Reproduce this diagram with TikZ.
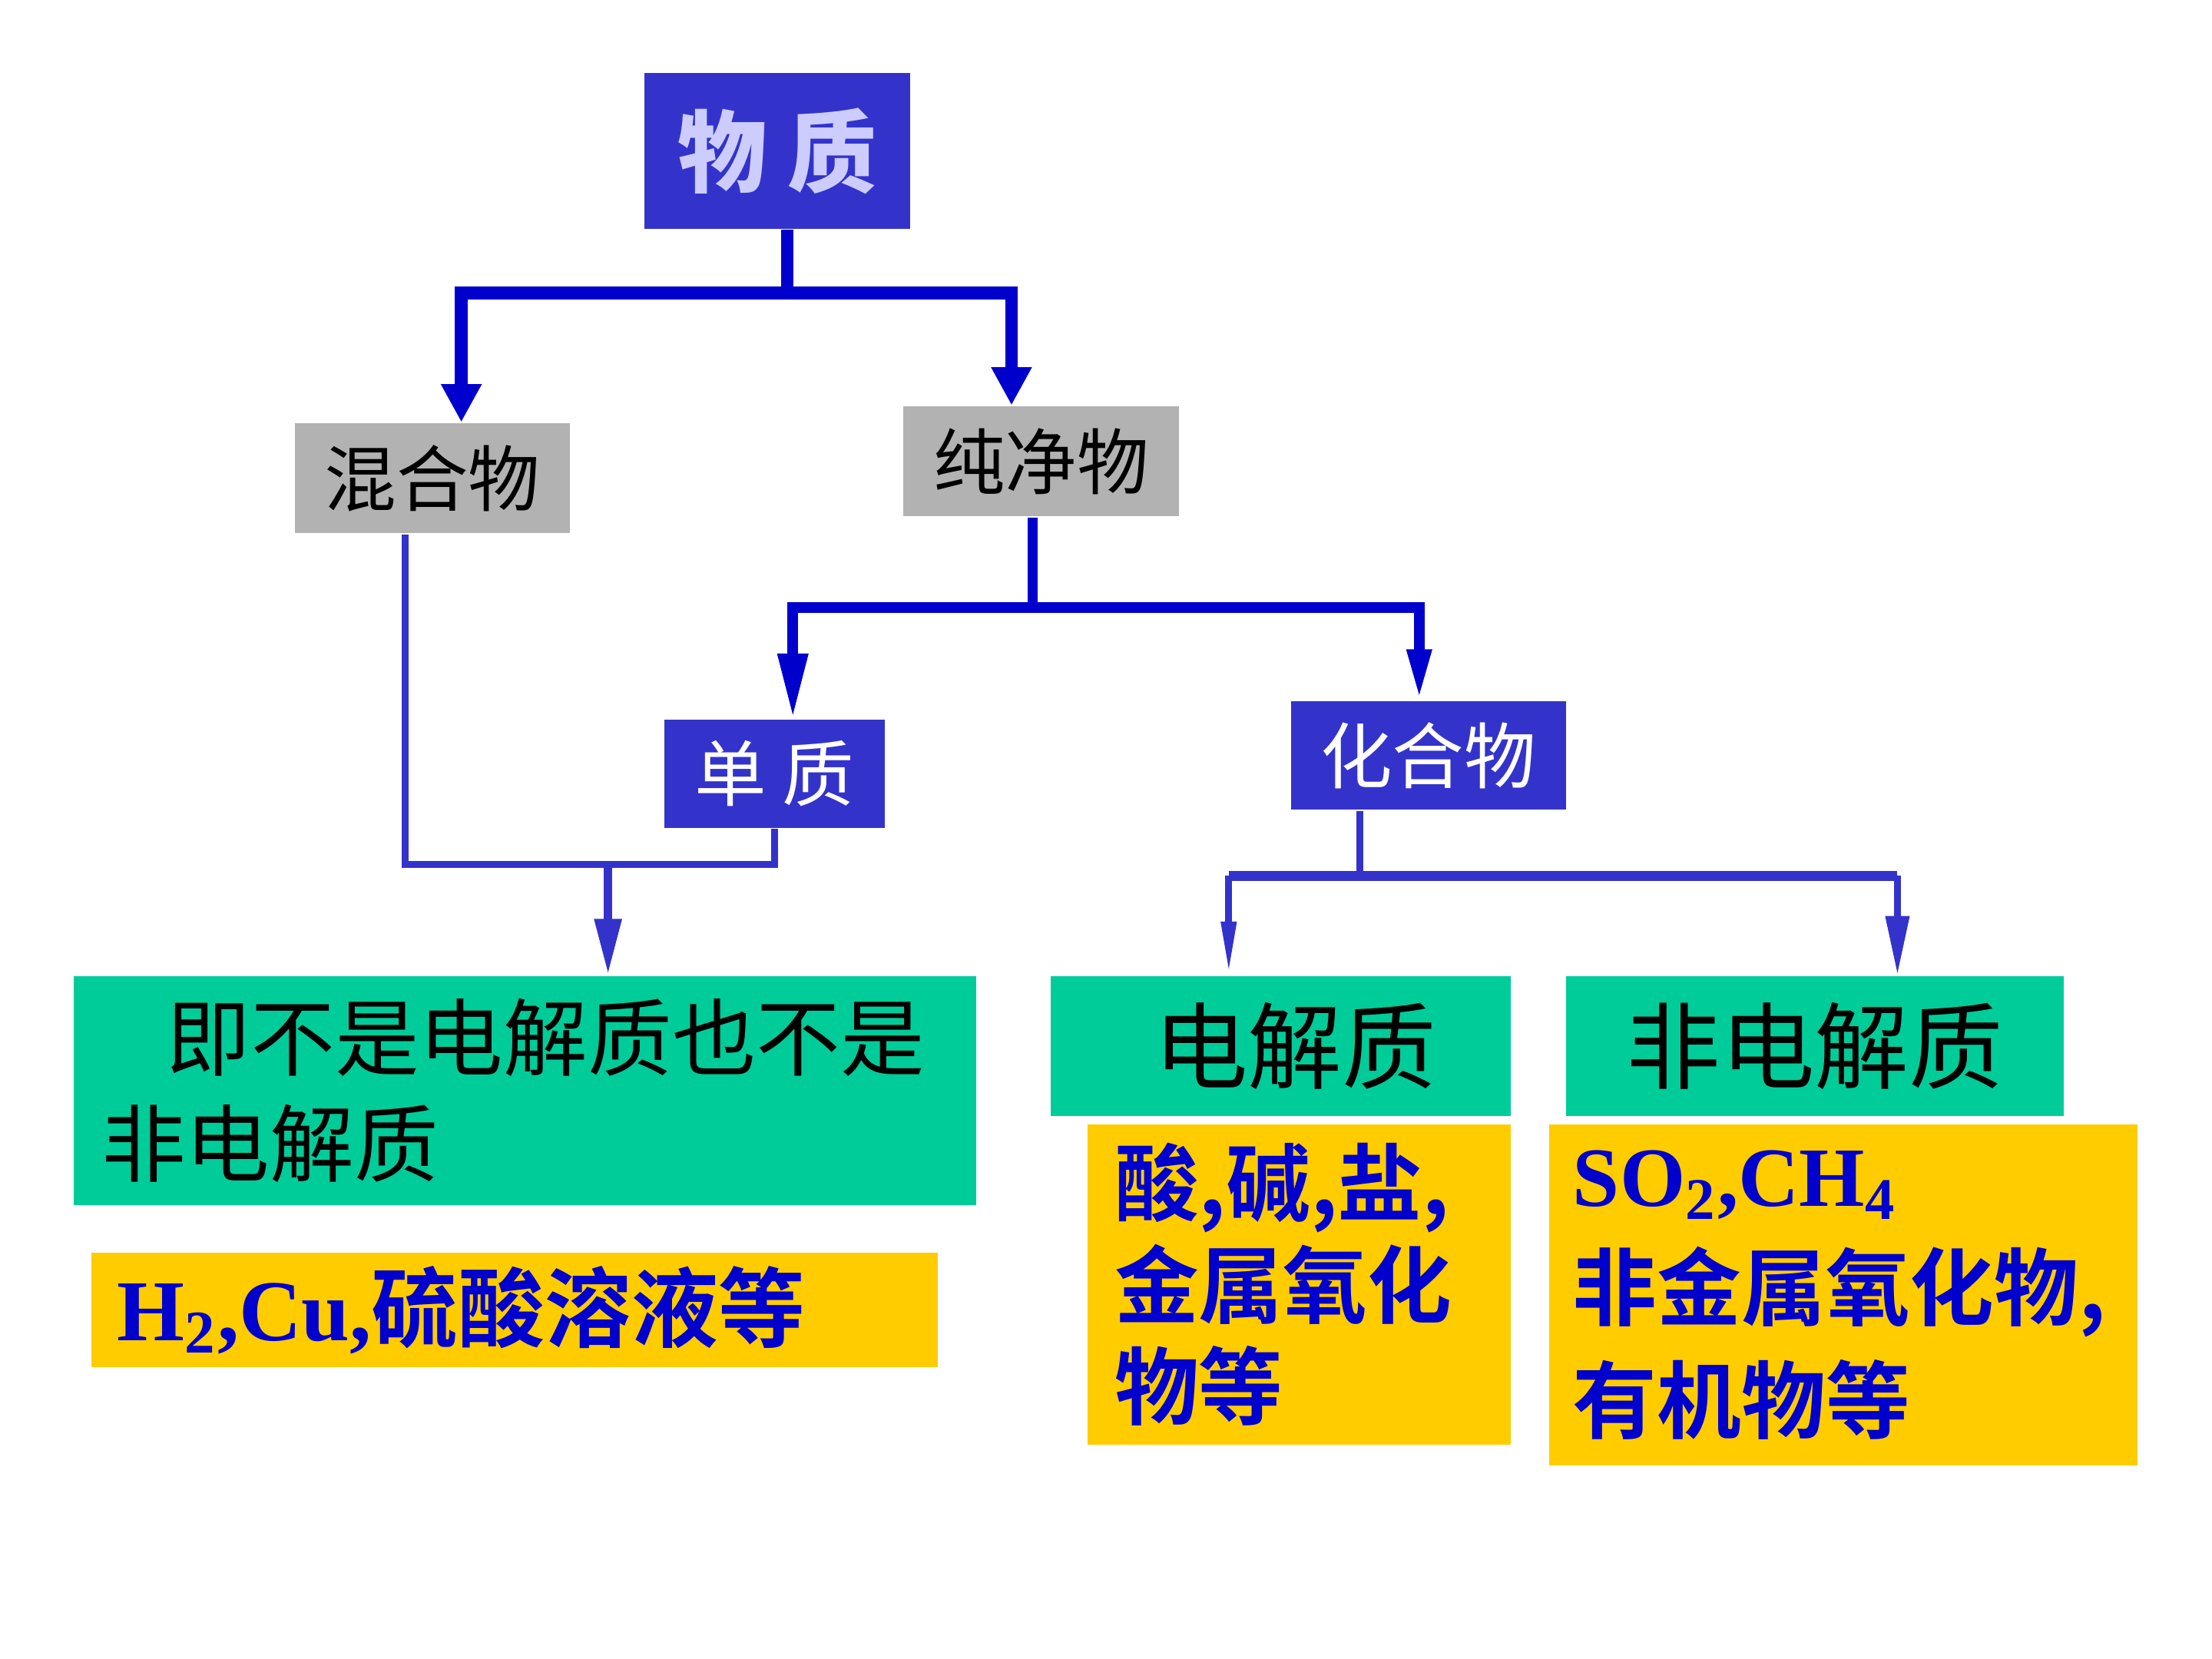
\documentclass[tikz,border=0pt]{standalone}
\usepackage{fontspec}
\setmainfont{Liberation Serif}
\newfontfamily\cjk{Noto Sans CJK SC}[BoldFont={Noto Sans CJK SC Bold}]
\newfontfamily\cjkheavy{Noto Sans CJK SC Black}
\usetikzlibrary{arrows.meta}
\definecolor{boxblue}{HTML}{3333CC}
\definecolor{lineblue}{HTML}{0000CC}
\definecolor{boxgray}{HTML}{B2B2B2}
\definecolor{boxgreen}{HTML}{00CC99}
\definecolor{boxyellow}{HTML}{FFCC00}
\definecolor{lavender}{HTML}{CCCCFF}

\begin{document}
\begin{tikzpicture}[
  box/.style={inner sep=0pt},
  topbox/.style={box,fill=boxblue,text=lavender,font=\cjkheavy\fontsize{18pt}{21pt}\selectfont},
  graybox/.style={box,fill=boxgray,text=black,minimum width=1.95cm,minimum height=0.78cm,font=\cjk\fontsize{14.5pt}{17pt}\selectfont},
  bluebox/.style={box,fill=boxblue,text=white,font=\cjk\fontsize{14.5pt}{17pt}\selectfont},
  greenbox/.style={box,fill=boxgreen,text=black,font=\cjk\fontsize{19pt}{21.3pt}\selectfont},
  yellowbox/.style={box,fill=boxyellow,text=lineblue,align=left,font=\bfseries\fontsize{17.5pt}{21pt}\selectfont},
  barone/.style={draw=lineblue,line width=2.6pt},
  bartwo/.style={draw=lineblue,line width=2.1pt},
  barthree/.style={draw=boxblue,line width=2pt},
  thinline/.style={draw=boxblue,line width=1.4pt},
]
\useasboundingbox (0,0) rectangle (15.68,-11.76);

\node[topbox,minimum width=1.88cm,minimum height=1.10cm] (top) at (5.51,-1.07) {物 质};
\node[graybox] (mix) at (3.065,-3.39) {混合物};
\node[graybox] (pure) at (7.38,-3.27) {纯净物};
\node[bluebox,minimum width=1.56cm,minimum height=0.77cm] (el) at (5.49,-5.485) {单 质};
\node[bluebox,minimum width=1.95cm,minimum height=0.77cm] (cpd) at (10.125,-5.355) {化合物};

\node[greenbox,font=\cjk\fontsize{17pt}{21.3pt}\selectfont,minimum height=1.62cm,text width=6.0cm,inner xsep=0.2cm,align=left] (neither) at (3.72,-7.73) {\hspace*{0.46cm}即不是电解质也不是\\非电解质};
\node[greenbox,minimum width=3.26cm,minimum height=0.99cm] (elec) at (9.08,-7.415) {\hspace*{0.2cm}电解质};
\node[greenbox,minimum width=3.53cm,minimum height=0.99cm] (nonelec) at (12.865,-7.415) {非电解质};

\node[yellowbox,minimum height=0.81cm,text width=5.64cm,inner xsep=0.18cm] (mixex) at (3.65,-9.285) {H\textsubscript{2},Cu,{\cjk 硫酸溶液等}};
\node[yellowbox,font=\bfseries\fontsize{17pt}{20.5pt}\selectfont,minimum height=2.27cm,text width=2.62cm,inner xsep=0.19cm] (elecex) at (9.21,-9.105) {{\cjk 酸,碱,盐,}\\{\cjk 金属氧化}\\{\cjk 物等}};
\node[yellowbox,font=\bfseries\fontsize{17pt}{22.7pt}\selectfont,minimum height=2.42cm,text width=3.83cm,inner xsep=0.17cm] (nonelecex) at (13.065,-9.18) {SO\textsubscript{2},CH\textsubscript{4}\\{\cjk 非金属氧化物,}\\{\cjk 有机物等}};

\coordinate (j1) at ([xshift=0.7mm,yshift=-4.5mm]top.south);
\draw[barone] ([xshift=0.7mm]top.south) -- (j1);
\draw[barone,-{Triangle[width=2.7mm,length=2.7mm]}] (j1) -| ([xshift=2.05mm]mix.north);
\draw[barone,-{Triangle[width=2.7mm,length=2.7mm]}] (j1) -| ([xshift=-2.1mm]pure.north);

\coordinate (j2) at ([xshift=-0.6mm,yshift=-6.4mm]pure.south);
\draw[bartwo] ([xshift=-0.6mm]pure.south) -- (j2);
\draw[bartwo,-{Triangle[width=2mm,length=4.6mm]}] (j2) -| ([xshift=1.3mm]el.north);
\draw[bartwo,-{Triangle[width=1.6mm,length=3.6mm]}] (j2) -| ([xshift=-0.65mm]cpd.north);

\coordinate (m1) at (4.31,-6.13);
\draw[thinline] ([xshift=-1.95mm]mix.south) |- (m1) -| (el.south);
\draw[thinline,line width=1.8pt,-{Triangle[width=1.8mm,length=4mm]}] (m1) -- (m1 |- neither.north);

\coordinate (j3) at ([xshift=-4.85mm,yshift=-4.6mm]cpd.south);
\coordinate (a1) at ([xshift=-3.7mm]elec.north);
\coordinate (a2) at ([xshift=5.85mm]nonelec.north);
\draw[thinline] ([xshift=-4.85mm]cpd.south) -- (j3);
\draw[barthree] (j3 -| a1) -- (j3 -| a2);
\draw[thinline,-{Triangle[width=1mm,length=3.8mm]}] (j3 -| a1) -- (a1);
\draw[thinline,-{Triangle[width=1.6mm,length=4.2mm]}] (j3 -| a2) -- (a2);
\end{tikzpicture}
\end{document}
